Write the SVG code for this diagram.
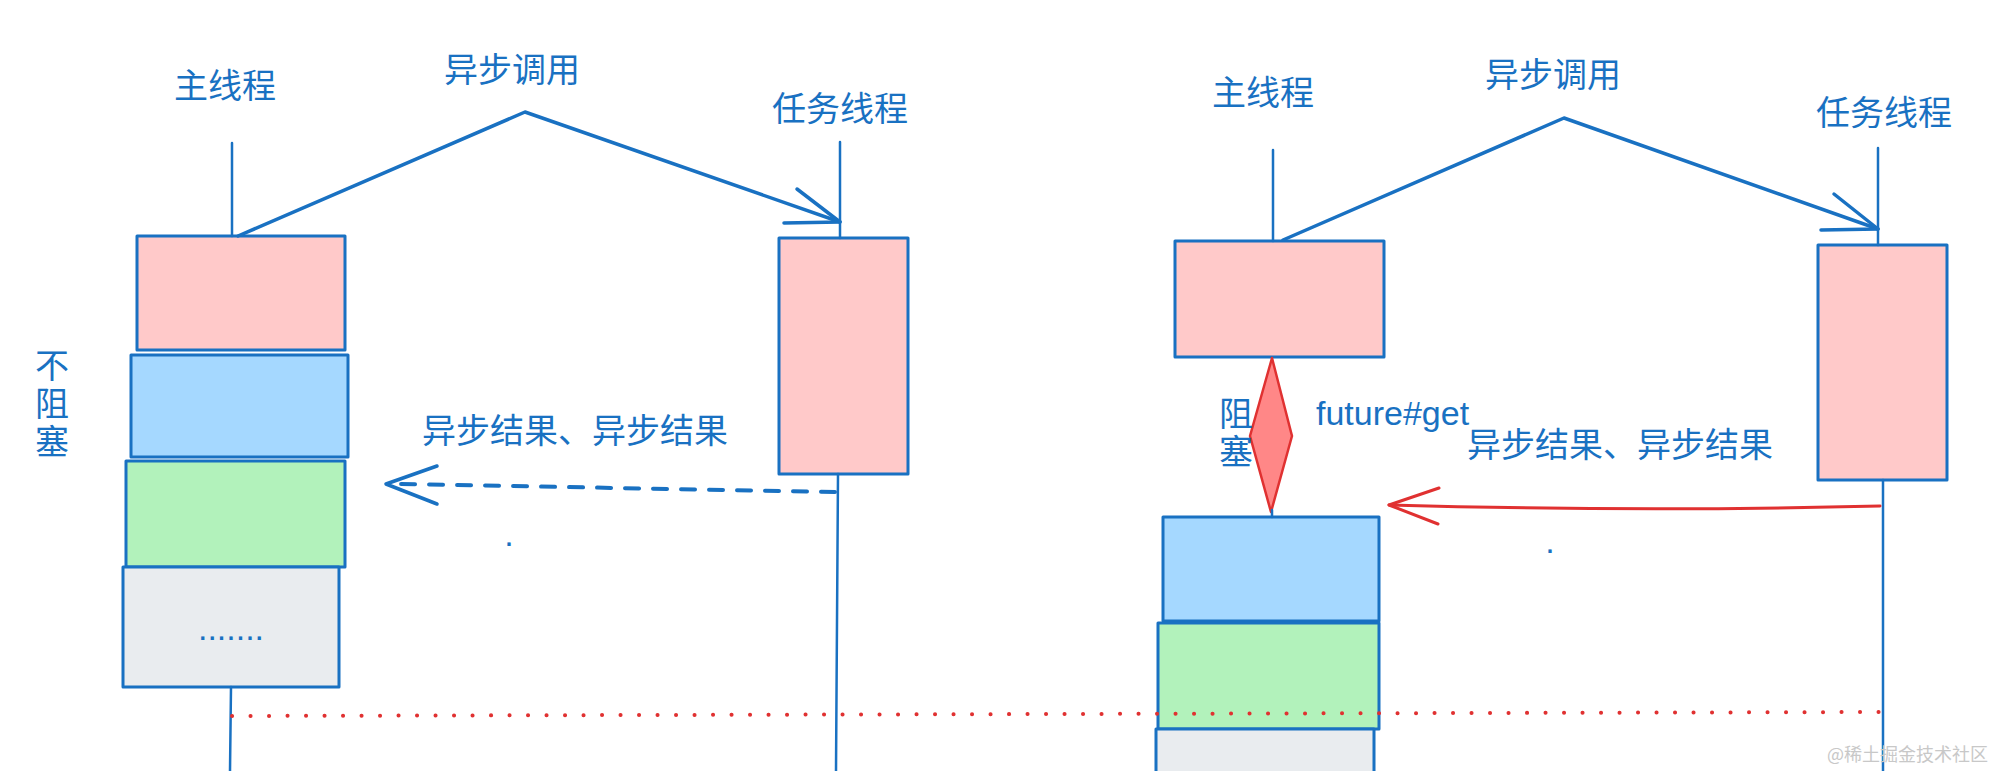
<svg xmlns="http://www.w3.org/2000/svg" width="1991" height="771" viewBox="0 0 1991 771">
<style>
.bg{fill:#ffffff}
.box{stroke:#1971c2;stroke-width:3;stroke-linejoin:round}
.pink{fill:#ffc9c9}
.blue{fill:#a5d8ff}
.green{fill:#b2f2bb}
.gray{fill:#e9ecef}
.life{stroke:#1971c2;stroke-width:2.5;fill:none;stroke-linecap:round}
.call{stroke:#1971c2;stroke-width:3.5;fill:none;stroke-linecap:round;stroke-linejoin:round}
.dash{stroke:#1971c2;stroke-width:4;fill:none;stroke-dasharray:14 14;stroke-linecap:round}
.red{stroke:#e03131;stroke-width:3;fill:none;stroke-linecap:round;stroke-linejoin:round}
.dots{stroke:#e03131;stroke-width:4;fill:none;stroke-dasharray:0.1 18.4;stroke-linecap:round}
.t{fill:#1971c2;font-family:"Noto Sans CJK SC","Noto Sans",sans-serif;font-size:34px;text-anchor:middle}
.v{fill:#1971c2;font-family:"Noto Sans CJK SC","Noto Sans",sans-serif;font-size:34px;writing-mode:vertical-rl;letter-spacing:4px;text-anchor:start}
.tl{fill:#1971c2;font-family:"Liberation Sans",Arial,sans-serif;font-size:34px}
.wm{fill:#c8c8c8;font-family:"Noto Sans CJK SC","Noto Sans",sans-serif;font-size:18px;text-anchor:end}
</style>
<rect class="bg" x="0" y="0" width="1991" height="771"/>

<g id="left-main-pink"><rect class="box pink" x="137" y="236" width="208" height="114"/></g>
<g id="left-main-blue"><rect class="box blue" x="131" y="355" width="217" height="102"/></g>
<g id="left-main-green"><rect class="box green" x="126" y="461" width="219" height="106"/></g>
<g id="left-main-gray"><rect class="box gray" x="123" y="567" width="216" height="120"/>
  <text class="tl" x="231" y="640" text-anchor="middle" font-size="30">.......</text></g>
<g id="left-task-pink"><rect class="box pink" x="779" y="238" width="129" height="236"/></g>

<g id="right-main-pink"><rect class="box pink" x="1175" y="241" width="209" height="116"/></g>
<g id="right-diamond"><polygon points="1272,358 1292,436 1271,512 1250,436" fill="#ff8787" stroke="#e03131" stroke-width="2.5" stroke-linejoin="round"/></g>
<g id="right-main-blue"><rect class="box blue" x="1163" y="517" width="216" height="104"/></g>
<g id="right-main-green"><rect class="box green" x="1158" y="623" width="221" height="106"/></g>
<g id="right-main-gray"><rect class="box gray" x="1156" y="729" width="218" height="50"/></g>
<g id="right-task-pink"><rect class="box pink" x="1818" y="245" width="129" height="235"/></g>

<g id="connectors">
  <!-- left lifelines -->
  <line class="life" x1="232" y1="143" x2="232" y2="236"/>
  <line class="life" x1="231" y1="687" x2="230" y2="771"/>
  <line class="life" x1="840" y1="142" x2="840" y2="238"/>
  <line class="life" x1="838" y1="474" x2="836" y2="771"/>
  <!-- left async call -->
  <polyline class="call" points="238,236 525,112 840,222"/>
  <polyline class="call" points="797,189 840,222 784,223"/>
  <!-- left dashed return -->
  <line class="dash" x1="835" y1="492" x2="400" y2="484"/>
  <polyline class="call" points="437,466 386,484 437,504"/>

  <!-- right lifelines -->
  <line class="life" x1="1273" y1="150" x2="1273" y2="241"/>
  <line class="life" x1="1272" y1="510" x2="1272" y2="517"/>
  <line class="life" x1="1878" y1="148" x2="1878" y2="245"/>
  <line class="life" x1="1883" y1="480" x2="1883" y2="771"/>
  <!-- right async call -->
  <polyline class="call" points="1283,240 1564,118 1878,229"/>
  <polyline class="call" points="1834,194 1878,229 1821,230"/>
  <!-- right red return -->
  <path class="red" d="M1880,506 Q1640,512 1389,505"/>
  <polyline class="red" points="1439,488 1389,505 1438,524"/>

  <!-- red dotted line -->
  <line class="dots" x1="232" y1="716" x2="1889" y2="712"/>
</g>

<g id="labels">
  <text class="t" x="225" y="98">主线程</text>
  <text class="t" x="512" y="82">异步调用</text>
  <text class="t" x="840" y="121">任务线程</text>
  <text class="t" x="575" y="443">异步结果、异步结果</text>
  <text class="v" x="52" y="348">不阻塞</text>
  <text class="tl" x="509" y="546" text-anchor="middle" font-size="30">.</text>

  <text class="t" x="1263" y="105">主线程</text>
  <text class="t" x="1553" y="87">异步调用</text>
  <text class="t" x="1884" y="125">任务线程</text>
  <text class="v" x="1236" y="396">阻塞</text>
  <text class="tl" x="1316" y="425">future#get</text>
  <text class="t" x="1620" y="457">异步结果、异步结果</text>
  <text class="tl" x="1550" y="553" text-anchor="middle" font-size="30">.</text>

  <text class="wm" x="1988" y="761">@稀土掘金技术社区</text>
</g>
</svg>
